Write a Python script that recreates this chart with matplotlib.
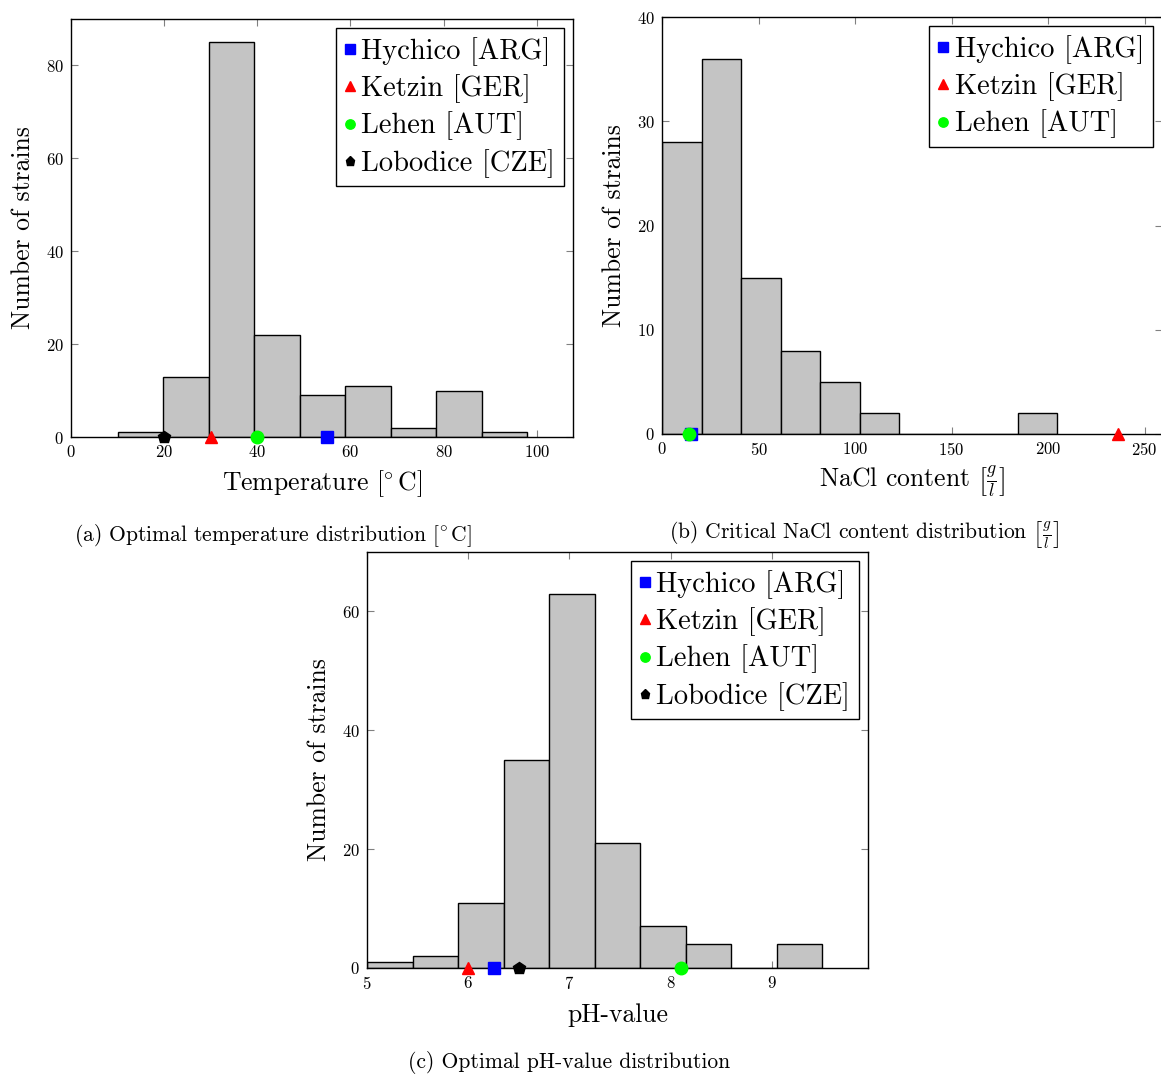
import numpy as np
import matplotlib
matplotlib.use('Agg')
import matplotlib.pyplot as plt

plt.rcParams['font.family'] = 'serif'
plt.rcParams['font.serif'] = ['cmr10', 'DejaVu Serif']
plt.rcParams['mathtext.fontset'] = 'cm'
plt.rcParams['axes.formatter.use_mathtext'] = True
plt.rcParams['axes.unicode_minus'] = False

# histogram data: bin range and counts per bin
temp_range = (10, 98)
temp_counts = [1, 13, 85, 22, 9, 11, 2, 10, 1]
nacl_range = (0, 204.7)
nacl_counts = [28, 36, 15, 8, 5, 2, 0, 0, 0, 2]
ph_range = (5.0, 9.5)
ph_counts = [1, 2, 11, 35, 63, 21, 7, 4, 0, 4]

# site values
sites = ['Hychico [ARG]', 'Ketzin [GER]', 'Lehen [AUT]', 'Lobodice [CZE]']
site_temp = [55, 30, 40, 20]
site_nacl = [15, 236, 14, None]
site_ph = [6.25, 6.0, 8.1, 6.5]

markers = ['s', '^', 'o', 'p']
colors = ['#0000ff', '#ff0000', '#00ff00', '#000000']

fig = plt.figure(figsize=(11.61, 10.74), dpi=100)
W, H = 1161, 1074


def make_axes(l, t, r, b):
    return fig.add_axes([l / W, 1 - b / H, (r - l) / W, (b - t) / H])


def draw_hist(ax, rng, counts, vals, xlim, ylim, xticks, yticks, xlabel, xpad):
    edges = np.linspace(rng[0], rng[1], len(counts) + 1)
    ax.bar(edges[:-1], counts, width=np.diff(edges), align='edge',
           color='#c4c4c4', edgecolor='black', linewidth=1.0, zorder=2)
    for name, v, m, c in zip(sites, vals, markers, colors):
        if v is None:
            continue
        ax.plot([v], [0], marker=m, color=c, linestyle='none', markersize=9,
                clip_on=False, zorder=5, label=name)
    ax.set_xlim(*xlim)
    ax.set_ylim(*ylim)
    ax.set_xticks(xticks)
    ax.set_yticks(yticks)
    ax.tick_params(direction='in', top=True, right=True, length=5,
                   color='#808080', labelsize=12, pad=5)
    for s in ax.spines.values():
        s.set_linewidth(1.0)
    ax.set_xlabel(xlabel, fontsize=18.5, labelpad=xpad)
    ax.set_ylabel('Number of strains', fontsize=18.5, labelpad=8)
    leg = ax.legend(loc='upper right', fontsize=20.5, fancybox=False,
                    edgecolor='black', framealpha=1, markerscale=0.75,
                    handlelength=0.4, handletextpad=0.2, borderpad=0.3,
                    labelspacing=0.3, borderaxespad=0.33)
    leg.get_frame().set_linewidth(1.0)


ax1 = make_axes(71, 19, 573, 437)
draw_hist(ax1, temp_range, temp_counts, site_temp, (0, 107.8), (0, 90),
          [0, 20, 40, 60, 80, 100], [0, 20, 40, 60, 80],
          r'Temperature $[\!^\circ\mathrm{C}]$', 6)

ax2 = make_axes(662, 17, 1162, 434)
draw_hist(ax2, nacl_range, nacl_counts, site_nacl, (0, 259), (0, 40),
          [0, 50, 100, 150, 200, 250], [0, 10, 20, 30, 40],
          r'NaCl content $\left[\frac{g}{l}\right]$', 4)

ax3 = make_axes(367, 552, 868, 968)
draw_hist(ax3, ph_range, ph_counts, site_ph, (5, 9.95), (0, 70),
          [5, 6, 7, 8, 9], [0, 20, 40, 60], 'pH-value', 8)

fig.text(273 / W, 1 - 535 / H, r'(a) Optimal temperature distribution $[\!^\circ\mathrm{C}]$',
         ha='center', va='center', fontsize=15.5)
fig.text(864 / W, 1 - 535 / H, r'(b) Critical NaCl content distribution $\left[\frac{g}{l}\right]$',
         ha='center', va='center', fontsize=15.5)
fig.text(569 / W, 1 - 1062 / H, '(c) Optimal pH-value distribution',
         ha='center', va='center', fontsize=15.5)

fig.savefig('out.png', dpi=100)
